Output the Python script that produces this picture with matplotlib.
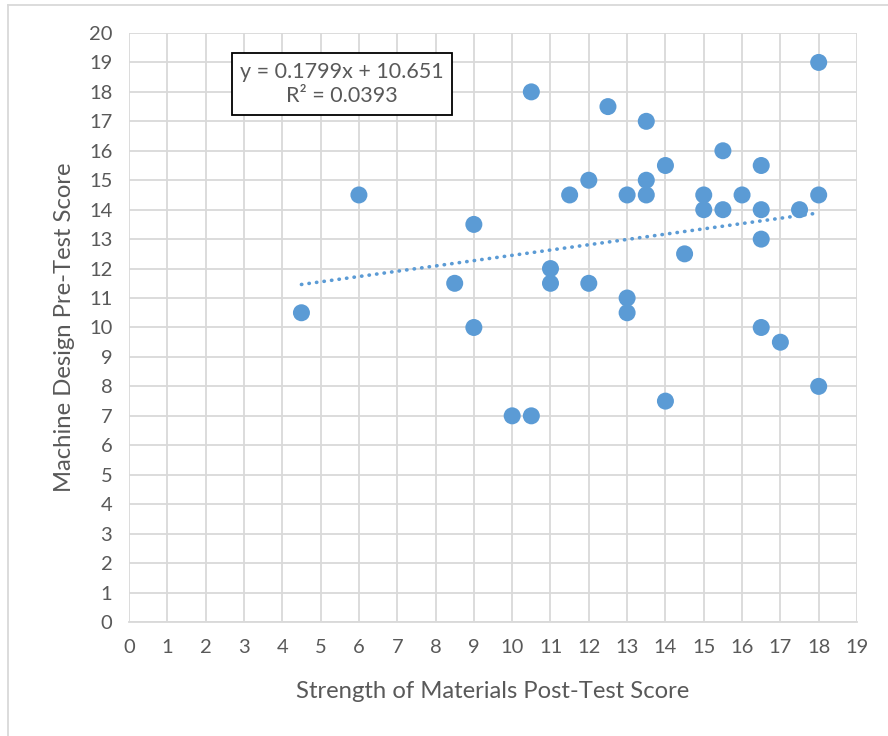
import numpy as np
import matplotlib.pyplot as plt
from matplotlib.lines import Line2D

plt.rcParams['font.family'] = ['Lato', 'DejaVu Sans']

# Strength of Materials post-test vs Machine Design pre-test
post_test = [4.5, 6, 8.5, 9, 9, 10, 10.5, 10.5, 11, 11, 11.5, 12, 12, 12.5,
             13, 13, 13, 13.5, 13.5, 13.5, 14, 14, 14.5, 15, 15, 15.5, 15.5,
             16, 16.5, 16.5, 16.5, 16.5, 17, 17.5, 18, 18, 18]
pre_test = [10.5, 14.5, 11.5, 13.5, 10, 7, 7, 18, 12, 11.5, 14.5, 15, 11.5, 17.5,
            14.5, 11, 10.5, 17, 15, 14.5, 15.5, 7.5, 12.5, 14.5, 14, 16, 14,
            14.5, 15.5, 14, 13, 10, 9.5, 14, 19, 14.5, 8]
slope = 0.1799
intercept = 10.651
eq_text = "y = 0.1799x + 10.651\nR² = 0.0393"

text_col = '#595959'
grid_col = '#D9D9D9'
dot_col = '#5B9BD5'

fig = plt.figure(figsize=(8.88, 7.36), dpi=100)
ax = fig.add_axes([0.1453, 0.1549, 0.8198, 0.8003])

ax.scatter(post_test, pre_test, s=150, color=dot_col, edgecolors='none', zorder=3)

xs = np.array([min(post_test), max(post_test)])
ax.plot(xs, slope * xs + intercept, color=dot_col, lw=2.6,
        linestyle=(0, (0.1, 2.0)), dash_capstyle='round', zorder=2)

ax.set_xlim(0, 19)
ax.set_ylim(0, 20)
ax.set_xticks(range(0, 20))
ax.set_yticks(range(0, 21))
ax.grid(True, color=grid_col, lw=1.3)
ax.set_axisbelow(True)
for s in ['top', 'right', 'left']:
    ax.spines[s].set_visible(False)
ax.spines['bottom'].set_color(grid_col)
ax.spines['bottom'].set_linewidth(1.3)
ax.tick_params(length=0, labelsize=14.5, colors=text_col, pad=12)

ax.set_xlabel("Strength of Materials Post-Test Score", fontsize=17.2,
              color=text_col, labelpad=18)
ax.set_ylabel("Machine Design Pre-Test Score", fontsize=17.2,
              color=text_col, labelpad=10)

ax.text(5.56, 18.27, eq_text, ha='center', va='center', fontsize=15.5,
        color=text_col, linespacing=1.25, zorder=4,
        bbox=dict(boxstyle='square,pad=0.4', fc='white', ec='black', lw=1.3))

# outer chart border (only top and left visible)
fig.add_artist(Line2D([8 / 888, 8 / 888], [0, 1 - 5 / 736], color='#D9D9D9', lw=1.3))
fig.add_artist(Line2D([8 / 888, 1], [1 - 5 / 736, 1 - 5 / 736], color='#D9D9D9', lw=1.3))

fig.savefig("out.png", dpi=100)
